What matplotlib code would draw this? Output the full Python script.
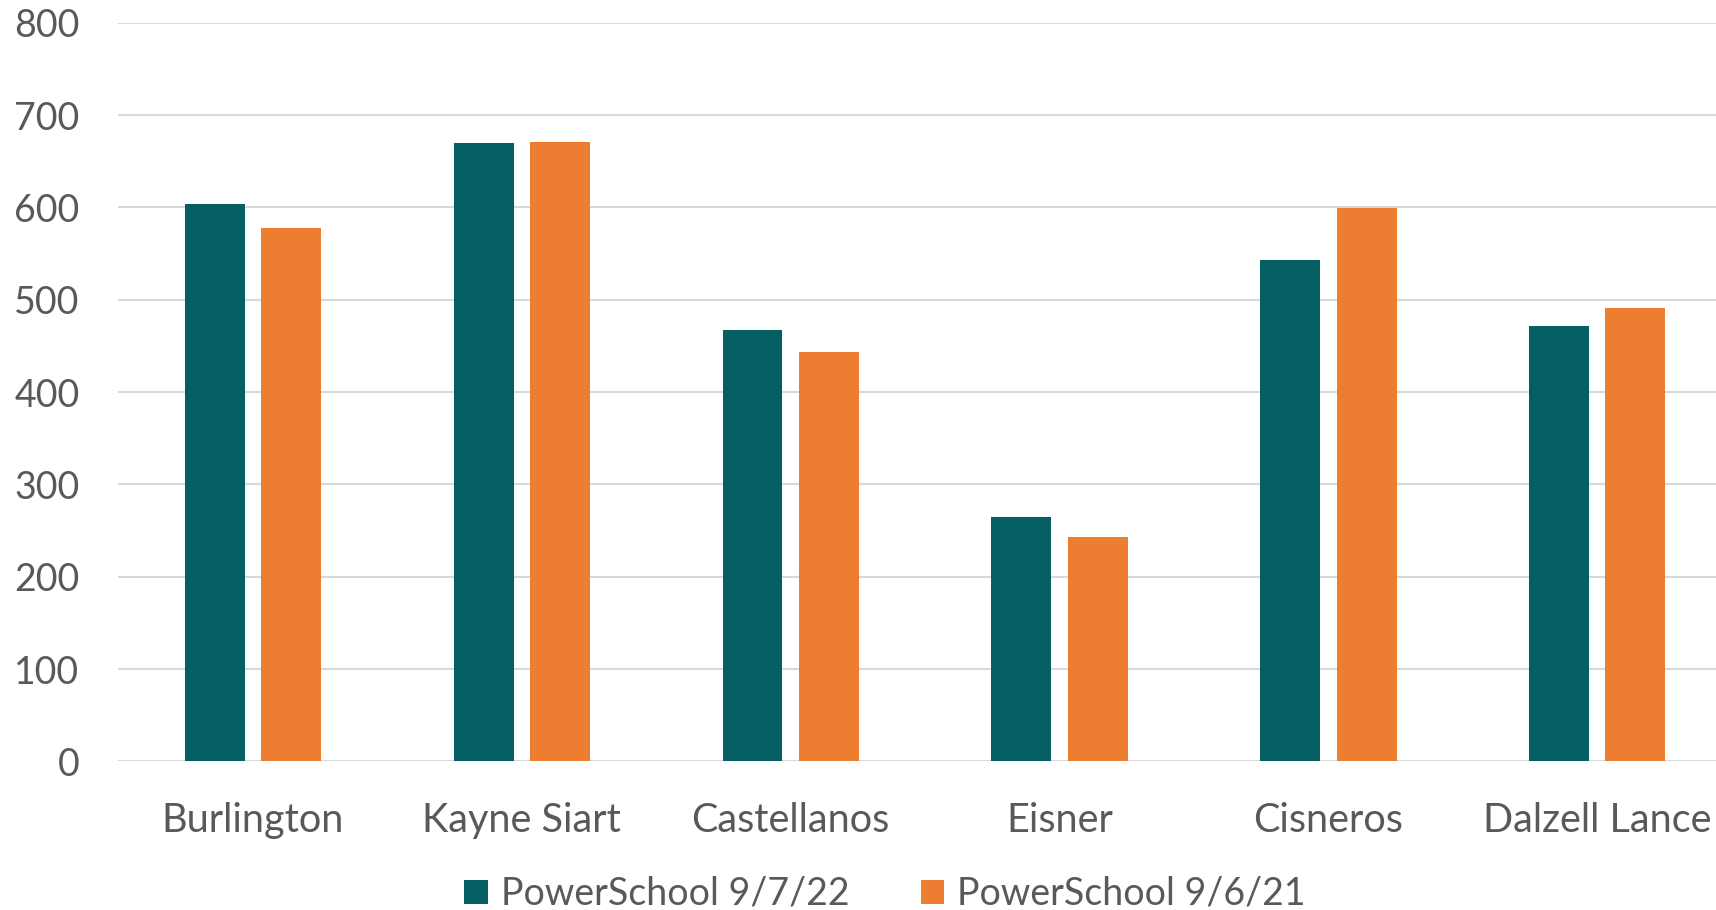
import matplotlib
matplotlib.use("Agg")
import matplotlib.pyplot as plt
from matplotlib.patches import Patch
import numpy as np

schools = ["Burlington", "Kayne Siart", "Castellanos", "Eisner", "Cisneros", "Dalzell Lance"]
enroll_2022 = [604, 670, 467, 265, 543, 472]
enroll_2021 = [578, 671, 443, 243, 599, 491]
series_names = ["PowerSchool 9/7/22", "PowerSchool 9/6/21"]
y_ticks = [0, 100, 200, 300, 400, 500, 600, 700, 800]

TEAL = "#045E62"
ORANGE = "#ED7D31"
GRID = "#D9D9D9"
TEXT = "#595959"
FONT = "Lato"

W, H = 1716, 910
fig = plt.figure(figsize=(W / 100, H / 100), dpi=100)
ax = fig.add_axes([118.3 / W, 1 - 761.3 / H, 1613.5 / W, (761.3 - 22.9) / H])

x = np.arange(len(schools))
bw = 0.223
off = 0.1417
ax.bar(x - off, enroll_2022, width=bw, color=TEAL, zorder=3)
ax.bar(x + off, enroll_2021, width=bw, color=ORANGE, zorder=3)

ax.set_xlim(-0.5, len(schools) - 0.5)
ax.set_ylim(0, 800)
ax.set_yticks(y_ticks)
ax.set_yticklabels([str(v) for v in y_ticks], fontsize=27, color=TEXT, family=FONT)
ax.set_xticks(x)
ax.set_xticklabels(schools, fontsize=28.5, color=TEXT, family=FONT)
ax.tick_params(axis="y", length=0, pad=28)
ax.tick_params(axis="x", length=0, pad=29)
ax.yaxis.grid(True, color=GRID, linewidth=1.5, zorder=0)
ax.set_axisbelow(True)
for s in ax.spines.values():
    s.set_visible(False)

handles = [Patch(facecolor=TEAL, edgecolor="none"), Patch(facecolor=ORANGE, edgecolor="none")]
fig.legend(handles, series_names, loc="center", bbox_to_anchor=(885 / W, 1 - 894 / H),
           ncol=2, frameon=False, prop={"family": FONT, "size": 27},
           labelcolor=TEXT, handlelength=0.62, handleheight=0.62,
           handletextpad=0.35, columnspacing=1.9)

fig.savefig("out.png", dpi=100, facecolor="white")
